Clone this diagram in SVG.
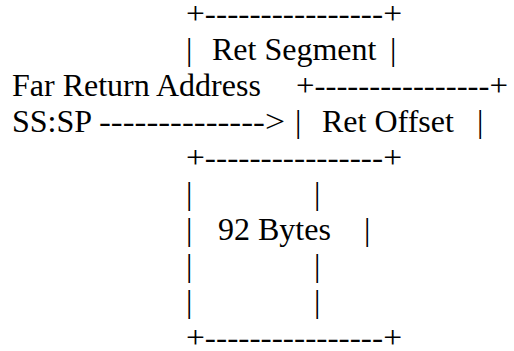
<svg xmlns="http://www.w3.org/2000/svg" width="514" height="351" viewBox="0 0 514 351">
  <style>
    .t { font-family: 'Liberation Serif', 'Times New Roman', Times, 'DejaVu Serif', serif; font-size: 32px; fill: #000; }
  </style>
  <rect x="0" y="0" width="514" height="351" fill="#fff"/>

  <g font-family="Liberation Serif, Times New Roman, Times, DejaVu Serif, serif" font-size="32">
    <!-- stack slot: return segment -->
    <g id="ret-segment">
      <text class="t" x="186" y="24" textLength="216" lengthAdjust="spacingAndGlyphs">+----------------+</text>
      <text class="t" x="186" y="60">|</text>
      <text class="t" x="212" y="60">Ret Segment</text>
      <text class="t" x="390" y="60">|</text>
    </g>

    <!-- caption on the left -->
    <g id="far-return-label">
      <text class="t" x="12" y="96">Far Return Address</text>
    </g>

    <!-- stack slot: return offset -->
    <g id="ret-offset">
      <text class="t" x="296" y="96" textLength="212" lengthAdjust="spacingAndGlyphs">+----------------+</text>
      <text class="t" x="295" y="132">|</text>
      <text class="t" x="322" y="132">Ret Offset</text>
      <text class="t" x="477" y="132">|</text>
    </g>

    <!-- stack pointer arrow -->
    <g id="connectors">
      <text class="t" x="12" y="132">SS:SP</text>
      <text class="t" x="99" y="132" textLength="186" lengthAdjust="spacingAndGlyphs">--------------&gt;</text>
    </g>

    <!-- 92 byte block -->
    <g id="bytes-92">
      <text class="t" x="186" y="168" textLength="216" lengthAdjust="spacingAndGlyphs">+----------------+</text>
      <text class="t" x="186" y="204">|</text>
      <text class="t" x="314" y="204">|</text>
      <text class="t" x="186" y="240">|</text>
      <text class="t" x="218" y="240">92 Bytes</text>
      <text class="t" x="364" y="240">|</text>
      <text class="t" x="186" y="276">|</text>
      <text class="t" x="314" y="276">|</text>
      <text class="t" x="186" y="312">|</text>
      <text class="t" x="314" y="312">|</text>
      <text class="t" x="186" y="348" textLength="216" lengthAdjust="spacingAndGlyphs">+----------------+</text>
    </g>
  </g>
</svg>
